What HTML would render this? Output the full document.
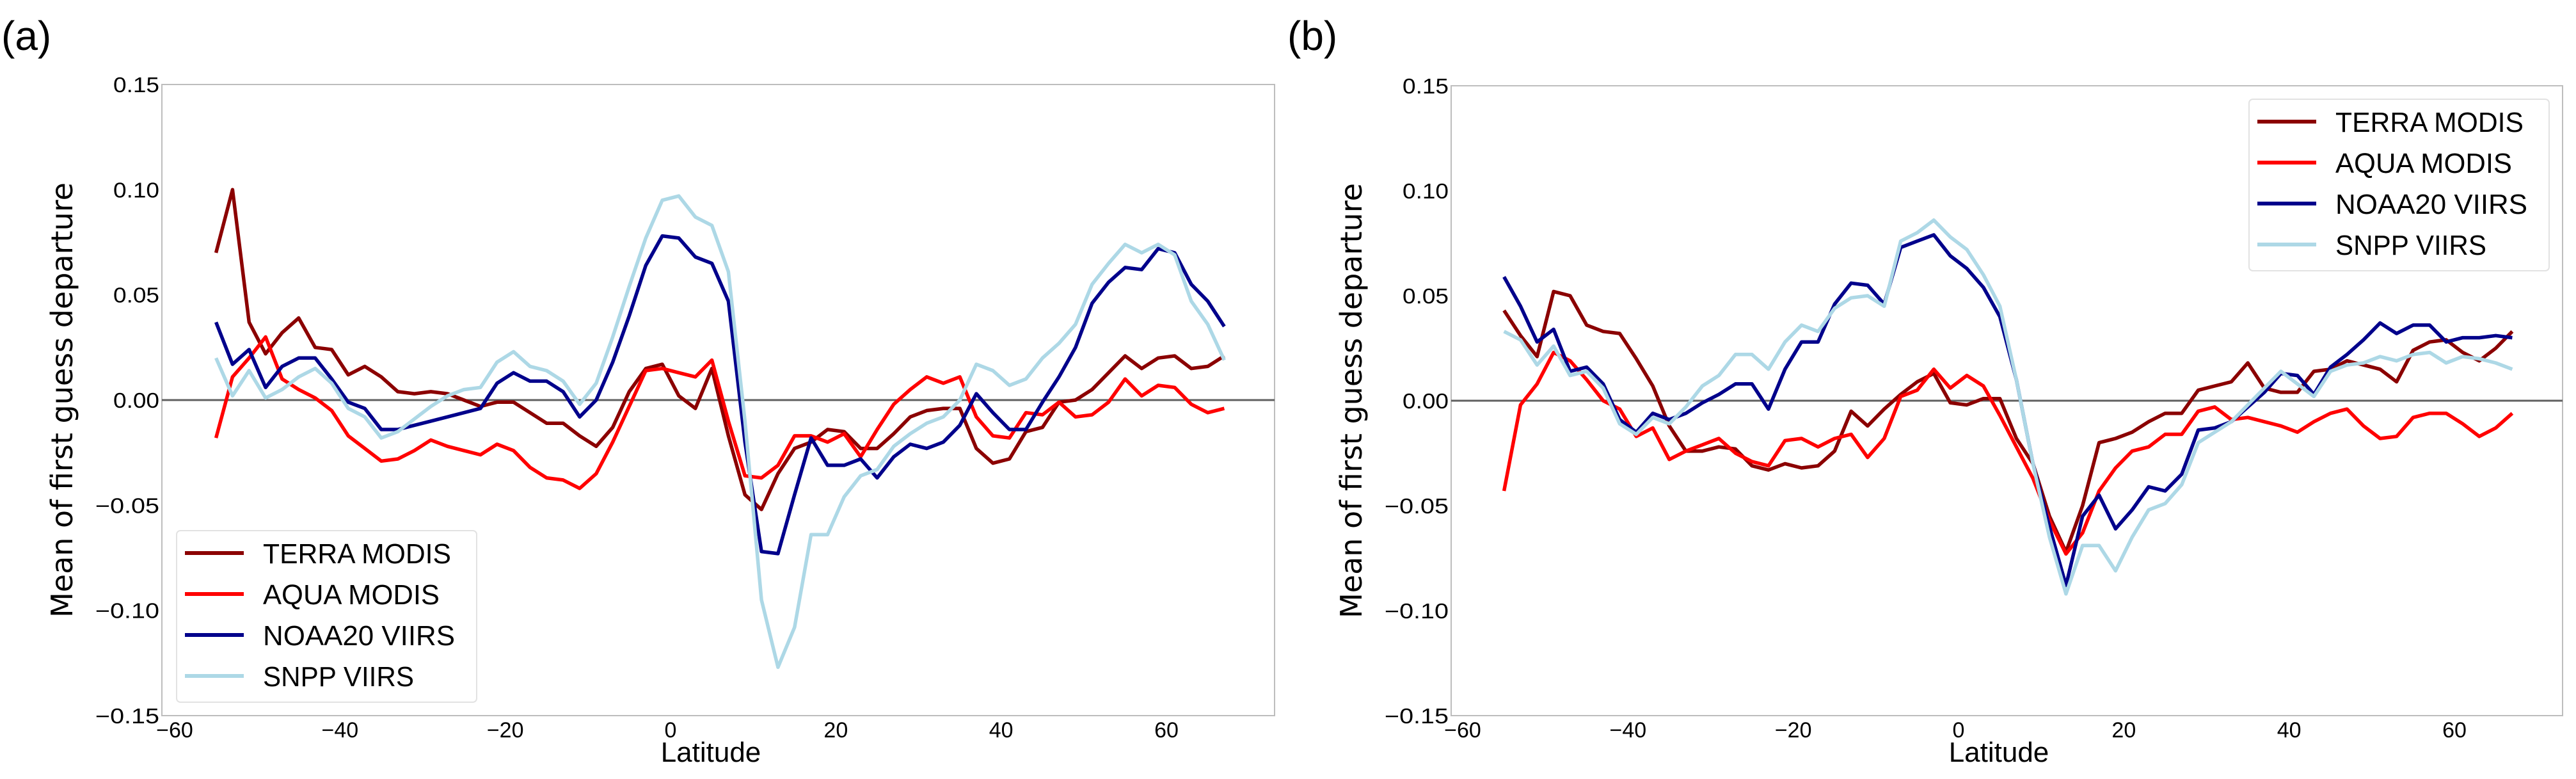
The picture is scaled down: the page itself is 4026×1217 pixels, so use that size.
<!DOCTYPE html>
<html><head><meta charset="utf-8">
<style>
html,body{margin:0;padding:0;background:#fff;}
svg{display:block;}
text{font-family:"Liberation Sans",sans-serif;}
</style></head>
<body>
<svg id="fig" width="4026" height="1217" viewBox="0 0 4026 1217" xmlns="http://www.w3.org/2000/svg"></svg>
<script>
const lats = [];
for (let l = -55; l <= 67; l += 2) lats.push(l);
const seriesNames = ["TERRA MODIS","AQUA MODIS","NOAA20 VIIRS","SNPP VIIRS"];
const legendWidths = [294, 276, 300, 236];
const xTicks = [-60,-40,-20,0,20,40,60];
const yTicks = [0.15,0.10,0.05,0.00,-0.05,-0.10,-0.15];
const yTickLabels = ["0.15","0.10","0.05","0.00","\u22120.05","\u22120.10","\u22120.15"];
const xTickLabels = ["\u221260","\u221240","\u221220","0","20","40","60"];

const terraA = [0.070,0.100,0.037,0.022,0.032,0.039,0.025,0.024,0.012,0.016,0.011,0.004,0.003,0.004,0.003,0.000,-0.003,-0.001,-0.001,-0.006,-0.011,-0.011,-0.017,-0.022,-0.013,0.004,0.015,0.017,0.002,-0.004,0.015,-0.017,-0.045,-0.052,-0.035,-0.023,-0.020,-0.014,-0.015,-0.023,-0.023,-0.016,-0.008,-0.005,-0.004,-0.004,-0.023,-0.030,-0.028,-0.015,-0.013,-0.001,0.000,0.005,0.013,0.021,0.015,0.020,0.021,0.015,0.016,0.021];
const aquaA = [-0.018,0.011,0.020,0.030,0.010,0.005,0.001,-0.005,-0.017,-0.023,-0.029,-0.028,-0.024,-0.019,-0.022,-0.024,-0.026,-0.021,-0.024,-0.032,-0.037,-0.038,-0.042,-0.035,-0.020,-0.003,0.014,0.015,0.013,0.011,0.019,-0.010,-0.036,-0.037,-0.031,-0.017,-0.017,-0.020,-0.016,-0.027,-0.014,-0.002,0.005,0.011,0.008,0.011,-0.008,-0.017,-0.018,-0.006,-0.007,-0.001,-0.008,-0.007,-0.001,0.010,0.002,0.007,0.006,-0.002,-0.006,-0.004];
const noaaA = [0.037,0.017,0.024,0.006,0.016,0.020,0.020,0.010,-0.001,-0.004,-0.014,-0.014,-0.012,-0.010,-0.008,-0.006,-0.004,0.008,0.013,0.009,0.009,0.004,-0.008,0.000,0.018,0.040,0.064,0.078,0.077,0.068,0.065,0.047,-0.020,-0.072,-0.073,-0.045,-0.018,-0.031,-0.031,-0.028,-0.037,-0.027,-0.021,-0.023,-0.020,-0.012,0.003,-0.006,-0.014,-0.014,-0.001,0.011,0.025,0.046,0.056,0.063,0.062,0.072,0.070,0.055,0.047,0.035];
const snppA = [0.020,0.002,0.014,0.001,0.005,0.011,0.015,0.008,-0.004,-0.008,-0.018,-0.015,-0.009,-0.003,0.002,0.005,0.006,0.018,0.023,0.016,0.014,0.009,-0.002,0.008,0.030,0.054,0.077,0.095,0.097,0.087,0.083,0.061,-0.010,-0.095,-0.127,-0.108,-0.064,-0.064,-0.046,-0.036,-0.033,-0.022,-0.016,-0.011,-0.008,0.000,0.017,0.014,0.007,0.010,0.020,0.027,0.036,0.055,0.065,0.074,0.070,0.074,0.069,0.047,0.036,0.019];

const terraB = [0.043,0.031,0.021,0.052,0.050,0.036,0.033,0.032,0.020,0.007,-0.012,-0.024,-0.024,-0.022,-0.023,-0.031,-0.033,-0.030,-0.032,-0.031,-0.024,-0.005,-0.012,-0.004,0.003,0.009,0.013,-0.001,-0.002,0.001,0.001,-0.018,-0.030,-0.055,-0.072,-0.050,-0.020,-0.018,-0.015,-0.010,-0.006,-0.006,0.005,0.007,0.009,0.018,0.006,0.004,0.004,0.014,0.015,0.019,0.017,0.015,0.009,0.024,0.028,0.029,0.023,0.019,0.025,0.033];
const aquaB = [-0.043,-0.002,0.008,0.023,0.019,0.010,0.000,-0.004,-0.017,-0.013,-0.028,-0.024,-0.021,-0.018,-0.025,-0.029,-0.031,-0.019,-0.018,-0.022,-0.018,-0.016,-0.027,-0.018,0.002,0.005,0.015,0.006,0.012,0.007,-0.007,-0.022,-0.037,-0.057,-0.073,-0.063,-0.043,-0.032,-0.024,-0.022,-0.016,-0.016,-0.005,-0.003,-0.009,-0.008,-0.010,-0.012,-0.015,-0.010,-0.006,-0.004,-0.012,-0.018,-0.017,-0.008,-0.006,-0.006,-0.011,-0.017,-0.013,-0.006];
const noaaB = [0.059,0.045,0.028,0.034,0.014,0.016,0.008,-0.009,-0.015,-0.006,-0.009,-0.006,-0.001,0.003,0.008,0.008,-0.004,0.015,0.028,0.028,0.046,0.056,0.055,0.046,0.073,0.076,0.079,0.069,0.063,0.054,0.040,0.010,-0.030,-0.060,-0.088,-0.055,-0.045,-0.061,-0.052,-0.041,-0.043,-0.035,-0.014,-0.013,-0.010,-0.003,0.004,0.013,0.012,0.003,0.016,0.022,0.029,0.037,0.032,0.036,0.036,0.028,0.030,0.030,0.031,0.030];
const snppB = [0.033,0.029,0.017,0.026,0.012,0.014,0.006,-0.011,-0.016,-0.008,-0.011,-0.003,0.007,0.012,0.022,0.022,0.015,0.028,0.036,0.033,0.044,0.049,0.050,0.045,0.076,0.080,0.086,0.078,0.072,0.060,0.045,0.010,-0.030,-0.065,-0.092,-0.069,-0.069,-0.081,-0.065,-0.052,-0.049,-0.040,-0.020,-0.015,-0.010,-0.002,0.006,0.014,0.008,0.002,0.014,0.017,0.018,0.021,0.019,0.022,0.023,0.018,0.021,0.020,0.018,0.015];

const colors = ["#8b0000","#ff0000","#00008b","#add8e6"];
const NS = "http://www.w3.org/2000/svg";
const svg = document.getElementById("fig");
function mk(tag, attrs, parent) {
  const e = document.createElementNS(NS, tag);
  for (const k in attrs) e.setAttribute(k, attrs[k]);
  (parent || svg).appendChild(e);
  return e;
}

function panel(p) {
  const g = mk("g", {});
  
  
  const xs = v => p.x0 + (v + 60) * (p.x1 - p.x0) / 120;
  const ys = v => p.yZero - v * (p.yBot - p.yTop) / 0.30;
  const lt = mk("text", {x: p.labelX, y: 78, "font-size": 64, fill: "#000"}, g);
  lt.textContent = p.letter;
  
  
  const fr = mk("rect", {x: p.left, y: p.yTop, width: p.right - p.left, height: p.yBot - p.yTop, fill: "none", stroke: "#bdbdbd", "stroke-width": 2}, g);
  
  
  const zl = mk("line", {x1: p.left, x2: p.right, y1: ys(0), y2: ys(0), stroke: "#606060", "stroke-width": 3}, g);
  
  
  yTicks.forEach((t, i) => {
    const tx = mk("text", {x: p.left - 4, y: ys(t) + 12, "font-size": 33, "text-anchor": "end", fill: "#000", textLength: i >= 4 ? 100 : 72, lengthAdjust: "spacingAndGlyphs"}, g);
    tx.textContent = yTickLabels[i];
    
    
  });
  xTicks.forEach((t, i) => {
    const tx = mk("text", {x: xs(t), y: p.yBot + 34, "font-size": 34, "text-anchor": "middle", fill: "#000"}, g);
    tx.textContent = xTickLabels[i];
    
    
  });
  const xl = mk("text", {x: (p.x0 + p.x1) / 2 + 63, y: 1190, "font-size": 44, "text-anchor": "middle", fill: "#000"}, g);
  xl.textContent = "Latitude";
  
  
  const yl = mk("text", {x: 0, y: 0, "font-size": 46, "text-anchor": "middle", fill: "#000", transform: `translate(${p.left - 140},${ys(0)}) rotate(-90)`, style: "font-family:'DejaVu Sans',sans-serif"}, g);
  yl.textContent = "Mean of first guess departure";
  
  
  p.data.forEach((arr, si) => {
    const d = arr.map((v, i) => (i ? "L" : "M") + xs(lats[i]).toFixed(1) + "," + ys(v).toFixed(1)).join(" ");
    const pa = mk("path", {d: d, fill: "none", stroke: colors[si], "stroke-width": 5.5, "stroke-linejoin": "round"}, g);
    
    
  });
  const lg = mk("g", {}, g);
  
  
  const lb = mk("rect", {x: p.lgX, y: p.lgY, width: p.lgW, height: p.lgH, rx: 6, fill: "#fff", "fill-opacity": 0.85, stroke: "#e2e2e2", "stroke-width": 2}, lg);
  
  
  seriesNames.forEach((n, i) => {
    const yy = p.lgY + 35 + i * 64;
    const ent = mk("g", {}, lg);
    
    
    mk("line", {x1: p.lgX + 13, x2: p.lgX + 105, y1: yy, y2: yy, stroke: colors[i], "stroke-width": 6}, ent);
    const t = mk("text", {x: p.lgX + 135, y: yy + 16, "font-size": 44, fill: "#000", textLength: legendWidths[i], lengthAdjust: "spacingAndGlyphs"}, ent);
    t.textContent = n;
  });
}

panel({id: "a", letter: "(a)", labelX: 2, left: 253, right: 1992, x0: 273, x1: 1823, yTop: 132, yBot: 1118, yZero: 625, lgX: 276, lgY: 829, lgW: 469, lgH: 268, data: [terraA, aquaA, noaaA, snppA]});
panel({id: "b", letter: "(b)", labelX: 2012, left: 2268, right: 4005, x0: 2286, x1: 3836, yTop: 134, yBot: 1118, yZero: 626, lgX: 3515, lgY: 155, lgW: 469, lgH: 268, data: [terraB, aquaB, noaaB, snppB]});
</script>
</body></html>
